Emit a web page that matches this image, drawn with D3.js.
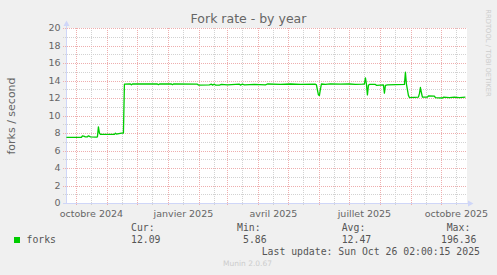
<!DOCTYPE html>
<html lang="fr">
<head>
  <meta charset="UTF-8" />
  <title>Fork rate - by year</title>
  <script src="https://d3js.org/d3.v7.min.js"></script>
  <style>
    body { margin: 0; background: #f0f0f0; }
    svg { display: block; font-family: "DejaVu Sans", sans-serif; }
    .mono { font-family: "DejaVu Sans Mono", monospace; font-size: 9.8px; fill: #555; }
  </style>
</head>
<body>
  <svg width="497" height="275"></svg>

  <script>
    // fork rate samples (date, forks / second)
    const dates = [
      "2024-09-21", "2024-10-06", "2024-10-07", "2024-10-09", "2024-10-10", "2024-10-12",
      "2024-10-13", "2024-10-15", "2024-10-21", "2024-10-22", "2024-10-23", "2024-10-24",
      "2024-10-25", "2024-11-08", "2024-11-09", "2024-11-10", "2024-11-15", "2024-11-17",
      "2024-11-18", "2024-11-24", "2024-11-25", "2024-11-26", "2024-12-21", "2024-12-22",
      "2024-12-23", "2025-01-04", "2025-01-05", "2025-01-06", "2025-01-30", "2025-01-31",
      "2025-02-11", "2025-02-13", "2025-02-14", "2025-02-16", "2025-02-17", "2025-02-21",
      "2025-02-23", "2025-03-01", "2025-03-13", "2025-03-14", "2025-03-16", "2025-03-18",
      "2025-03-28", "2025-04-08", "2025-04-10", "2025-04-23", "2025-05-03", "2025-05-13",
      "2025-05-28", "2025-05-29", "2025-05-31", "2025-06-01", "2025-06-02", "2025-06-03",
      "2025-06-07", "2025-06-12", "2025-06-22", "2025-07-01", "2025-07-07", "2025-07-14",
      "2025-07-16", "2025-07-17", "2025-07-18", "2025-07-19", "2025-07-20", "2025-07-21",
      "2025-07-27", "2025-07-28", "2025-08-04", "2025-08-05", "2025-08-06", "2025-08-08",
      "2025-08-25", "2025-08-26", "2025-08-27", "2025-08-29", "2025-08-30", "2025-09-08",
      "2025-09-09", "2025-09-10", "2025-09-11", "2025-09-12", "2025-09-17", "2025-09-18",
      "2025-09-24", "2025-09-25", "2025-10-02", "2025-10-03", "2025-10-09", "2025-10-14",
      "2025-10-19", "2025-10-25"
    ];
    const forks = [
      7.5, 7.5, 7.68, 7.62, 7.55, 7.55,
      7.68, 7.55, 7.52, 7.55, 8.7, 8.0,
      7.85, 7.85, 7.98, 7.88, 7.98, 8.0,
      13.58, 13.6, 13.5, 13.6, 13.6, 13.52,
      13.6, 13.6, 13.52, 13.6, 13.58, 13.48,
      13.5, 13.58, 13.48, 13.58, 13.48, 13.48,
      13.55, 13.5, 13.58, 13.48, 13.58, 13.5,
      13.55, 13.5, 13.6, 13.55, 13.6, 13.55,
      13.58, 13.5, 12.35, 12.3, 13.0, 13.6,
      13.55, 13.62, 13.58, 13.6, 13.55, 13.58,
      13.6, 14.3, 13.6, 12.35, 13.45, 13.55,
      13.55, 13.45, 13.5, 12.55, 13.45, 13.5,
      13.55, 14.95, 13.6, 12.3, 12.05, 12.1,
      12.5, 13.2, 12.6, 12.1, 12.1, 12.25,
      12.22, 12.05, 12.0, 12.1, 12.05, 12.1,
      12.05, 12.09
    ];

    const yTicks = [0, 2, 4, 6, 8, 10, 12, 14, 16, 18, 20];
    const legendHeads = ["Cur:", "Min:", "Avg:", "Max:"];
    const legendValues = ["12.09", "5.86", "12.47", "196.36"];
    const seriesName = "forks";
    const lastUpdate = "Last update: Sun Oct 26 02:00:15 2025";

    const fr = d3.timeFormatLocale({
      dateTime: "%A %e %B %Y à %X", date: "%d/%m/%Y", time: "%H:%M:%S",
      periods: ["AM", "PM"],
      days: ["dimanche", "lundi", "mardi", "mercredi", "jeudi", "vendredi", "samedi"],
      shortDays: ["dim.", "lun.", "mar.", "mer.", "jeu.", "ven.", "sam."],
      months: ["janvier", "février", "mars", "avril", "mai", "juin", "juillet", "août",
               "septembre", "octobre", "novembre", "décembre"],
      shortMonths: ["janv.", "févr.", "mars", "avr.", "mai", "juin", "juil.", "août",
                    "sept.", "oct.", "nov.", "déc."]
    });
    const fmt = fr.format("%B %Y");

    const plotLeft = 66.5, plotRight = 466.5, plotTop = 28, plotBottom = 203;
    const start = new Date(2024, 8, 21, 2), end = new Date(2025, 9, 26, 2);

    const x = d3.scaleTime().domain([start, end]).range([plotLeft, plotRight]);
    const y = d3.scaleLinear().domain([0, 20]).range([plotBottom, plotTop]);
    const px = v => Math.round(v) + 0.5;

    const svg = d3.select("svg");
    svg.append("rect").attr("width", 497).attr("height", 275).attr("fill", "#f0f0f0");
    svg.append("rect")
      .attr("x", plotLeft).attr("y", plotTop)
      .attr("width", 467 - plotLeft).attr("height", plotBottom - plotTop)
      .attr("fill", "#fff");

    const grid = svg.append("g").attr("shape-rendering", "crispEdges");
    const minorCol = "#d2d2d2", majorCol = "#eeaeae";

    // minor grid
    const minorY = d3.range(1, 20, 2);
    grid.selectAll(".hmin").data(minorY).join("line")
      .attr("x1", 63).attr("x2", 467)
      .attr("y1", d => px(y(d))).attr("y2", d => px(y(d)))
      .attr("stroke", minorCol).attr("stroke-dasharray", "1,1");

    const months = d3.timeMonth.range(d3.timeMonth.ceil(start), end);
    const halfMonths = [d3.timeDay.offset(d3.timeMonth.floor(start), 15)]
      .concat(months.map(m => d3.timeDay.offset(m, 15)))
      .filter(d => d > start && d < end);
    grid.selectAll(".vmin").data(halfMonths).join("line")
      .attr("x1", d => px(x(d))).attr("x2", d => px(x(d)))
      .attr("y1", plotTop).attr("y2", 206)
      .attr("stroke", minorCol).attr("stroke-dasharray", "1,1");

    // major grid
    grid.selectAll(".hmaj").data(yTicks).join("line")
      .attr("x1", 63).attr("x2", 467)
      .attr("y1", d => px(y(d))).attr("y2", d => px(y(d)))
      .attr("stroke", majorCol).attr("stroke-dasharray", "1,1");

    grid.selectAll(".vmaj").data(months).join("line")
      .attr("x1", d => px(x(d))).attr("x2", d => px(x(d)))
      .attr("y1", plotTop).attr("y2", 206)
      .attr("stroke", majorCol).attr("stroke-dasharray", "1,1");

    // axes
    const axisCol = "#cfd6f8";
    svg.append("line").attr("x1", plotLeft).attr("x2", plotLeft)
      .attr("y1", px(plotBottom)).attr("y2", 24)
      .attr("stroke", axisCol);
    svg.append("line").attr("x1", 63).attr("x2", 470)
      .attr("y1", px(plotBottom)).attr("y2", px(plotBottom))
      .attr("stroke", axisCol);
    svg.append("path").attr("d", `M${plotLeft - 3},26 L${plotLeft + 3},26 L${plotLeft},20.5 Z`)
      .attr("fill", axisCol);
    svg.append("path").attr("d", "M468,200.5 L468,206.5 L473.5,203.5 Z").attr("fill", axisCol);

    // y tick labels
    svg.append("g").selectAll("text").data(yTicks).join("text")
      .attr("x", 60.5).attr("y", d => y(d)).attr("dy", "0.36em")
      .attr("text-anchor", "end")
      .attr("font-size", 9.5).attr("fill", "#666")
      .text(d => d);

    // x labels, every 3 months, centred half a month after the tick
    const labelMonths = months.filter(m => m.getMonth() % 3 === 0);
    svg.append("g").selectAll("text").data(labelMonths).join("text")
      .attr("x", d => x(d3.timeDay.offset(d, 15)))
      .attr("y", 216.5)
      .attr("text-anchor", "middle")
      .attr("font-size", 9.5).attr("fill", "#666")
      .text(d => fmt(d));

    // series
    const parse = d3.timeParse("%Y-%m-%d");
    const pts = dates.map((d, i) => ({ t: parse(d), v: forks[i] }));
    const line = d3.line().x(d => x(d.t)).y(d => y(d.v));
    svg.append("path").datum(pts)
      .attr("d", line)
      .attr("fill", "none")
      .attr("stroke", "#00cc00")
      .attr("stroke-width", 1.3)
      .attr("stroke-linejoin", "round");

    // title & axis label
    svg.append("text").attr("x", 248.5).attr("y", 22.5)
      .attr("text-anchor", "middle").attr("font-size", 12.5).attr("fill", "#666")
      .text("Fork rate - by year");
    svg.append("text")
      .attr("transform", "translate(14.5,116) rotate(-90)")
      .attr("text-anchor", "middle").attr("font-size", 11).attr("fill", "#666")
      .text("forks / second");
    svg.append("text")
      .attr("transform", "translate(486,53) rotate(90)")
      .attr("text-anchor", "middle").attr("font-size", 6.8).attr("fill", "#cccccc")
      .text("RRDTOOL / TOBI OETIKER");

    // legend
    svg.append("rect").attr("x", 14).attr("y", 237).attr("width", 6).attr("height", 6)
      .attr("fill", "#00cc00");
    svg.append("text").attr("class", "mono").attr("x", 26.5).attr("y", 243).text(seriesName);

    const headX = [131, 237, 341.7, 446.7];
    const valX = [131, 243, 341.7, 441];
    svg.append("g").selectAll("text").data(legendHeads).join("text")
      .attr("class", "mono").attr("x", (d, i) => headX[i]).attr("y", 231).text(d => d);
    svg.append("g").selectAll("text").data(legendValues).join("text")
      .attr("class", "mono").attr("x", (d, i) => valX[i]).attr("y", 243).text(d => d);
    svg.append("text").attr("class", "mono").attr("x", 261.7).attr("y", 255).text(lastUpdate);

    svg.append("text").attr("x", 247.5).attr("y", 266).attr("text-anchor", "middle")
      .attr("font-size", 7.5).attr("fill", "#cccccc").text("Munin 2.0.67");
  </script>
</body>
</html>
